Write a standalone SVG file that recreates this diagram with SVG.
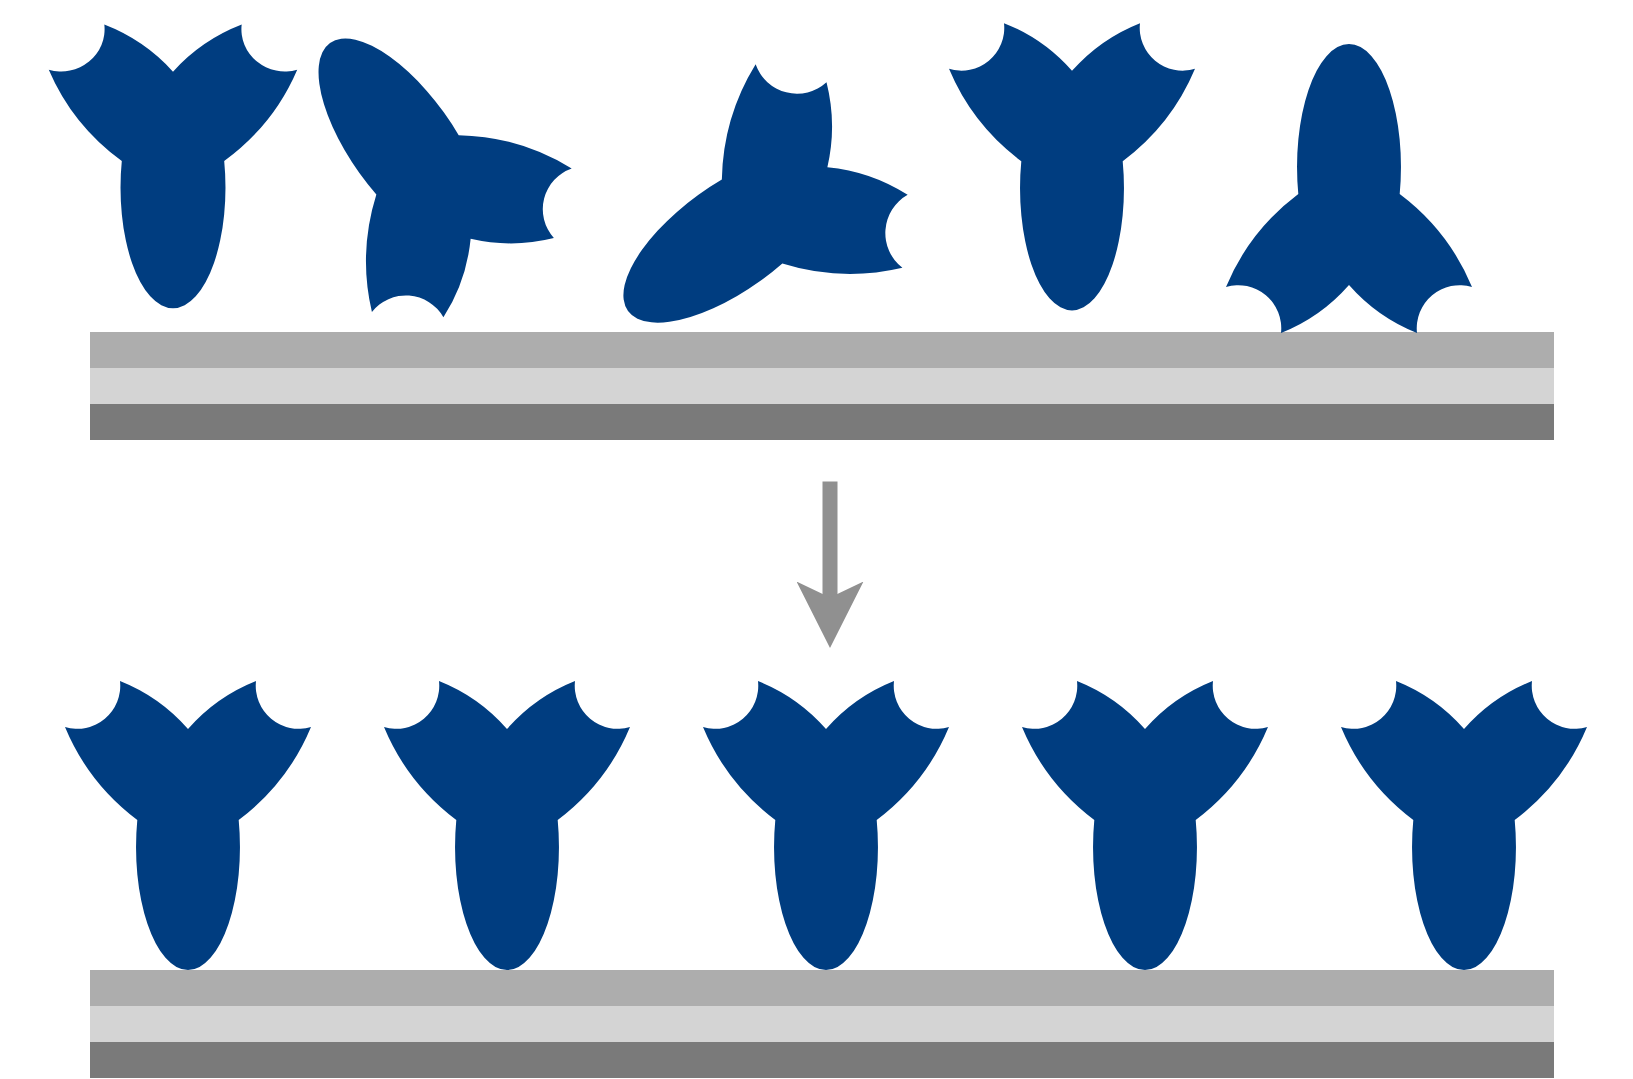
<svg xmlns="http://www.w3.org/2000/svg" xmlns:xlink="http://www.w3.org/1999/xlink" width="1633" height="1079" viewBox="0 0 1633 1079">
  <style>
    .ab { fill: #003d80; }
    .band1 { fill: #adadad; }
    .band2 { fill: #d4d4d4; }
    .band3 { fill: #7a7a7a; }
    .shaft { stroke: #909090; stroke-width: 15; fill: none; }
  </style>
  <defs>
    <!-- Y-shaped antibody, origin at the tip of the stem, arms pointing up -->
    <path id="antibody" class="ab" d="M0,0 A52,123 0 0 1 -50.7,-150 Q-99.6,-186.7 -123,-243 A43,43 0 0 0 -68,-289 Q-28.2,-273.2 0,-241 Q28.2,-273.2 68,-289 A43,43 0 0 0 123,-243 Q99.6,-186.7 50.7,-150 A52,123 0 0 1 0,0 Z"/>
    <marker id="head" markerUnits="userSpaceOnUse" markerWidth="67" markerHeight="67" viewBox="0 0 67 67" refX="20" refY="33.5" orient="auto">
      <polygon points="0,0 66.5,33.5 0,67 16.1,33.5" fill="#909090"/>
    </marker>
  </defs>

  <!-- upper surface -->
  <g id="surface-top">
    <rect class="band1" x="90" y="332" width="1464" height="36"/>
    <rect class="band2" x="90" y="368" width="1464" height="36"/>
    <rect class="band3" x="90" y="404" width="1464" height="36"/>
  </g>

  <!-- lower surface -->
  <g id="surface-bottom">
    <rect class="band1" x="90" y="970" width="1464" height="36"/>
    <rect class="band2" x="90" y="1006" width="1464" height="36"/>
    <rect class="band3" x="90" y="1042" width="1464" height="36"/>
  </g>

  <!-- randomly oriented antibodies -->
  <g id="random-1"><use xlink:href="#antibody" transform="translate(173,308.3) scale(1.01,0.982)"/></g>
  <g id="random-2"><use xlink:href="#antibody" transform="translate(330,43) rotate(144.3)"/></g>
  <g id="random-3"><use xlink:href="#antibody" transform="translate(628,311) rotate(54.2) scale(1.02)"/></g>
  <g id="random-4"><use xlink:href="#antibody" transform="translate(1072,310.4) scale(1,0.994)"/></g>
  <g id="random-5"><use xlink:href="#antibody" transform="translate(1349,44) rotate(180)"/></g>

  <!-- oriented antibodies -->
  <g id="oriented-1"><use xlink:href="#antibody" transform="translate(188,970)"/></g>
  <g id="oriented-2"><use xlink:href="#antibody" transform="translate(507,970)"/></g>
  <g id="oriented-3"><use xlink:href="#antibody" transform="translate(826,970)"/></g>
  <g id="oriented-4"><use xlink:href="#antibody" transform="translate(1145,970)"/></g>
  <g id="oriented-5"><use xlink:href="#antibody" transform="translate(1464,970)"/></g>

  <g id="connectors">
    <line class="shaft" x1="830" y1="481.5" x2="830" y2="601.5" marker-end="url(#head)"/>
  </g>
</svg>
